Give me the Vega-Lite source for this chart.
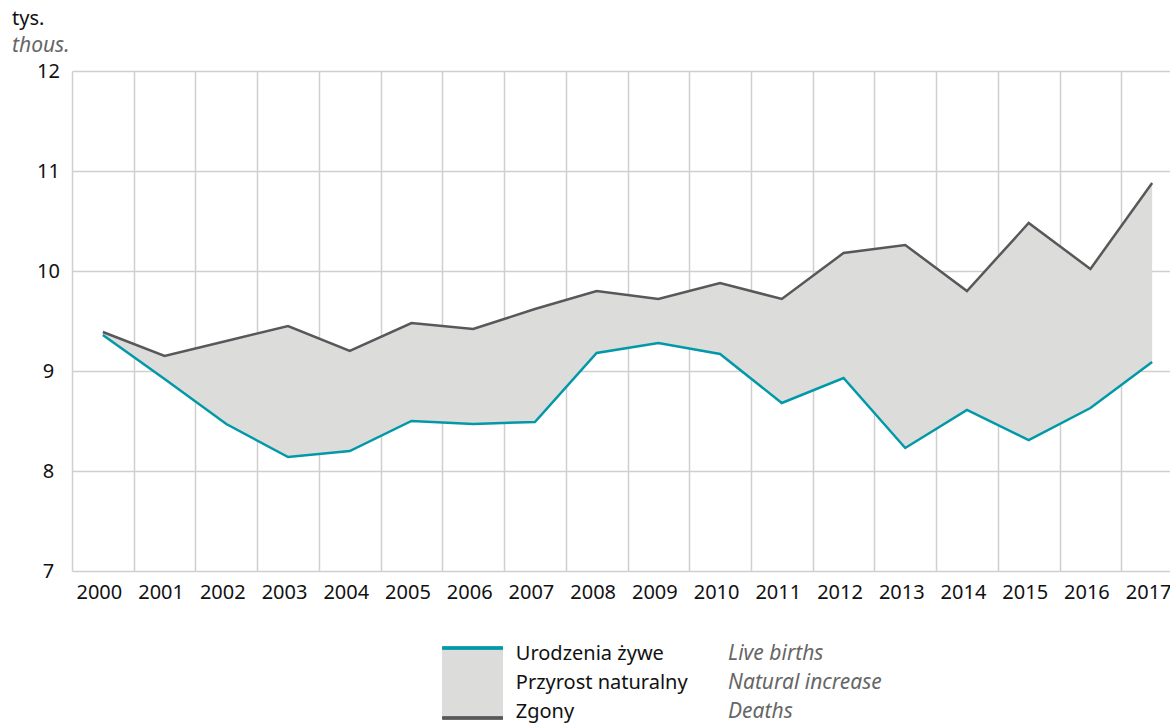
{
  "$schema": "https://vega.github.io/schema/vega-lite/v6.json",
  "background": "white",
  "padding": {"left": 12, "top": 9, "right": 0, "bottom": 0},
  "config": {"font": "Noto Sans", "view": {"stroke": null}, "concat": {"spacing": 37}},
  "vconcat": [
    {
      "width": 1111,
      "height": 500,
      "title": {
        "text": "tys.",
        "subtitle": "thous.",
        "anchor": "start",
        "frame": "group",
        "dx": -60,
        "fontSize": 20,
        "fontWeight": "normal",
        "color": "#111111",
        "subtitleFontSize": 21,
        "subtitleFontStyle": "italic",
        "subtitleColor": "#666666",
        "subtitlePadding": 6,
        "offset": 5
      },
      "data": {
        "values": [
          {"year": "2000", "births": 9.36, "deaths": 9.39},
          {"year": "2001", "births": 8.92, "deaths": 9.15},
          {"year": "2002", "births": 8.47, "deaths": 9.30},
          {"year": "2003", "births": 8.14, "deaths": 9.45},
          {"year": "2004", "births": 8.20, "deaths": 9.20},
          {"year": "2005", "births": 8.50, "deaths": 9.48},
          {"year": "2006", "births": 8.47, "deaths": 9.42},
          {"year": "2007", "births": 8.49, "deaths": 9.62},
          {"year": "2008", "births": 9.18, "deaths": 9.80},
          {"year": "2009", "births": 9.28, "deaths": 9.72},
          {"year": "2010", "births": 9.17, "deaths": 9.88},
          {"year": "2011", "births": 8.68, "deaths": 9.72},
          {"year": "2012", "births": 8.93, "deaths": 10.18},
          {"year": "2013", "births": 8.23, "deaths": 10.26},
          {"year": "2014", "births": 8.61, "deaths": 9.80},
          {"year": "2015", "births": 8.31, "deaths": 10.48},
          {"year": "2016", "births": 8.63, "deaths": 10.02},
          {"year": "2017", "births": 9.09, "deaths": 10.88}
        ]
      },
      "encoding": {
        "x": {
          "field": "year",
          "type": "ordinal",
          "bandPosition": 0.5,
          "scale": {"type": "band", "paddingInner": 0, "paddingOuter": 0},
          "axis": {
            "title": null,
            "domain": false,
            "ticks": false,
            "tickBand": "extent",
            "grid": true,
            "gridColor": "#cfcfcf",
            "gridWidth": 1.5,
            "labelAngle": 0,
            "labelFontSize": 20,
            "labelColor": "#111111",
            "labelPadding": 11,
            "labelOffset": -4
          }
        }
      },
      "layer": [
        {
          "mark": {"type": "area", "color": "#dcdcdb"},
          "encoding": {
            "y": {
              "field": "births",
              "type": "quantitative",
              "scale": {"domain": [7, 12], "zero": false, "nice": false},
              "axis": {
                "title": null,
                "domain": false,
                "ticks": false,
                "values": [7, 8, 9, 10, 11, 12],
                "format": "d",
                "grid": true,
                "gridColor": "#cfcfcf",
                "gridWidth": 1.5,
                "labelAlign": "center",
                "labelBaseline": "middle",
                "labelPadding": 24,
                "labelFontSize": 20,
                "labelColor": "#111111"
              }
            },
            "y2": {"field": "deaths"}
          }
        },
        {
          "mark": {"type": "line", "color": "#0099a8", "strokeWidth": 2.5},
          "encoding": {"y": {"field": "births", "type": "quantitative"}}
        },
        {
          "mark": {"type": "line", "color": "#58585a", "strokeWidth": 2.5},
          "encoding": {"y": {"field": "deaths", "type": "quantitative"}}
        }
      ]
    },
    {
      "width": 1111,
      "height": 87,
      "data": {
        "values": [
          {"pl": "Urodzenia żywe", "en": "Live births"},
          {"pl": "Przyrost naturalny", "en": "Natural increase"},
          {"pl": "Zgony", "en": "Deaths"}
        ]
      },
      "resolve": {"scale": {"y": "independent"}},
      "layer": [
        {
          "mark": {"type": "rect", "color": "#dcdcdb"},
          "encoding": {
            "x": {"datum": 6.0, "type": "quantitative", "scale": {"domain": [0, 18], "nice": false}, "axis": null},
            "x2": {"datum": 6.98},
            "y": {"datum": 0.31, "type": "quantitative", "scale": {"domain": [0, 3], "reverse": true, "nice": false}, "axis": null},
            "y2": {"datum": 2.72}
          }
        },
        {
          "mark": {"type": "rule", "color": "#0099a8", "strokeWidth": 3},
          "encoding": {
            "x": {"datum": 6.0, "type": "quantitative", "scale": {"domain": [0, 18], "nice": false}, "axis": null},
            "x2": {"datum": 6.98},
            "y": {"datum": 0.31, "type": "quantitative", "scale": {"domain": [0, 3], "reverse": true, "nice": false}, "axis": null}
          }
        },
        {
          "mark": {"type": "rule", "color": "#58585a", "strokeWidth": 3},
          "encoding": {
            "x": {"datum": 6.0, "type": "quantitative", "scale": {"domain": [0, 18], "nice": false}, "axis": null},
            "x2": {"datum": 6.98},
            "y": {"datum": 2.72, "type": "quantitative", "scale": {"domain": [0, 3], "reverse": true, "nice": false}, "axis": null}
          }
        },
        {
          "mark": {"type": "text", "align": "left", "baseline": "middle", "fontSize": 20, "color": "#111111"},
          "encoding": {
            "x": {"datum": 7.19, "type": "quantitative", "scale": {"domain": [0, 18], "nice": false}, "axis": null},
            "y": {"field": "pl", "type": "nominal", "sort": null, "scale": {"paddingInner": 0, "paddingOuter": 0}, "axis": null},
            "text": {"field": "pl"}
          }
        },
        {
          "mark": {"type": "text", "align": "left", "baseline": "middle", "fontSize": 21, "fontStyle": "italic", "color": "#666666"},
          "encoding": {
            "x": {"datum": 10.63, "type": "quantitative", "scale": {"domain": [0, 18], "nice": false}, "axis": null},
            "y": {"field": "pl", "type": "nominal", "sort": null, "scale": {"paddingInner": 0, "paddingOuter": 0}, "axis": null},
            "text": {"field": "en"}
          }
        }
      ]
    }
  ]
}
